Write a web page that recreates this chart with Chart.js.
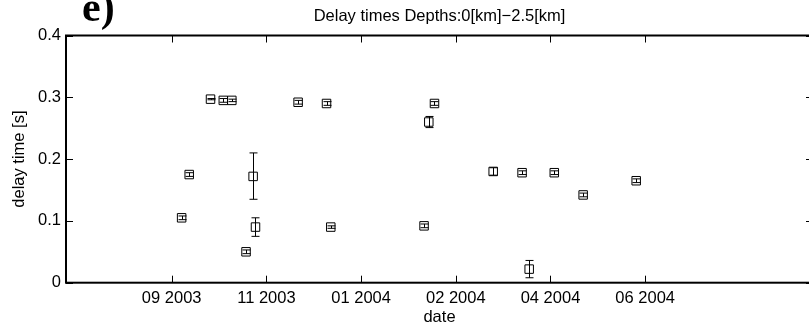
<!DOCTYPE html>
<html>
<head>
<meta charset="utf-8">
<script src="https://cdn.jsdelivr.net/npm/chart.js@4.4.0/dist/chart.umd.min.js"></script>
<style>
  html, body { margin: 0; padding: 0; background: #fff; overflow: hidden; }
  #wrap { position: relative; width: 813px; height: 330px; }
  canvas { display: block; }
</style>
</head>
<body>
<div id="wrap"><canvas id="delayChart" width="813" height="330"></canvas></div>
<script>
// date of each measurement, in months counted from Jan 2003 (9 = Sep 2003)
const dateMonths = [9.21, 9.37, 9.82, 10.09, 10.27, 10.57, 10.72, 10.77, 11.67, 12.27,
  12.36, 14.33, 14.43, 14.55, 15.79, 16.40, 16.55, 17.08, 17.69, 18.81];
// delay times [s]
const delayTimes = [0.105, 0.175, 0.297, 0.295, 0.295, 0.050, 0.172, 0.090, 0.292, 0.290,
  0.090, 0.092, 0.260, 0.290, 0.180, 0.178, 0.022, 0.178, 0.142, 0.165];
// error bar lengths below / above
const errLow = [0.003, 0.003, 0.001, 0.003, 0.002, 0.003, 0.037, 0.015, 0.003, 0.003,
  0.002, 0.003, 0.009, 0.003, 0.006, 0.003, 0.014, 0.003, 0.003, 0.003];
const errHigh = [0.003, 0.003, 0.001, 0.003, 0.002, 0.003, 0.038, 0.015, 0.003, 0.003,
  0.002, 0.003, 0.009, 0.003, 0.006, 0.003, 0.014, 0.003, 0.003, 0.003];
// x tick positions and their labels (as printed on the original figure)
const xTickPos = [9, 11, 13, 15, 17, 19];
const xTickLabels = ["09 2003", "11 2003", "01 2004", "02 2004", "04 2004", "06 2004"];
const yTicks = [0, 0.1, 0.2, 0.3, 0.4];

const FONT = "'Liberation Sans', Arial, Helvetica, sans-serif";

// error bars drawn from the arrays through the scales
const errorBars = {
  id: "errorBars",
  afterDatasetsDraw(chart) {
    const { ctx, scales: { x, y } } = chart;
    ctx.save();
    ctx.strokeStyle = "#000";
    ctx.lineWidth = 1;
    dateMonths.forEach((m, i) => {
      const px = Math.round(x.getPixelForValue(m)) + 0.5;
      const yLo = y.getPixelForValue(delayTimes[i] - errLow[i]);
      const yHi = y.getPixelForValue(delayTimes[i] + errHigh[i]);
      ctx.beginPath();
      ctx.moveTo(px, yLo); ctx.lineTo(px, yHi);
      ctx.moveTo(px - 4, yLo); ctx.lineTo(px + 4, yLo);
      ctx.moveTo(px - 4, yHi); ctx.lineTo(px + 4, yHi);
      ctx.stroke();
    });
    ctx.restore();
  }
};

// box frame with inward ticks, plus the panel letter
const frame = {
  id: "frame",
  afterDraw(chart) {
    const { ctx, chartArea: a, scales: { x, y } } = chart;
    ctx.save();
    ctx.strokeStyle = "#000";
    ctx.lineWidth = 1;
    ctx.beginPath();
    xTickPos.forEach(v => {
      const px = Math.round(x.getPixelForValue(v)) + 0.5;
      ctx.moveTo(px, a.bottom); ctx.lineTo(px, a.bottom - 7);
      ctx.moveTo(px, a.top); ctx.lineTo(px, a.top + 7);
    });
    yTicks.forEach(v => {
      const py = Math.round(y.getPixelForValue(v)) + 0.5;
      ctx.moveTo(a.left, py); ctx.lineTo(a.left + 7, py);
      ctx.moveTo(a.right, py); ctx.lineTo(a.right - 7, py);
    });
    ctx.stroke();
    ctx.lineWidth = 2;
    ctx.strokeRect(a.left, a.top, a.right - a.left, a.bottom - a.top);

    ctx.fillStyle = "#000";
    ctx.font = "bold 42px 'Liberation Serif', 'Times New Roman', serif";
    ctx.textBaseline = "alphabetic";
    ctx.fillText("e)", 82, 21);
    ctx.restore();
  }
};

const data = {
  datasets: [{
    label: "delay",
    data: dateMonths.map((m, i) => ({ x: m, y: delayTimes[i] })),
    showLine: false,
    pointStyle: "rect",
    pointRadius: 6,
    pointHoverRadius: 6,
    pointBorderWidth: 1,
    pointBorderColor: "#000",
    pointBackgroundColor: "rgba(0,0,0,0)"
  }]
};

const config = {
  type: "scatter",
  data: data,
  options: {
    responsive: false,
    animation: false,
    devicePixelRatio: 1,
    layout: { padding: 0, autoPadding: false },
    plugins: {
      legend: { display: false },
      tooltip: { enabled: false },
      title: {
        display: true,
        fullSize: false,
        text: "Delay times Depths:0[km]\u22122.5[km]",
        color: "#000",
        font: { family: FONT, size: 16.5, weight: "normal" },
        padding: { top: 6.3, bottom: 9.4 }
      }
    },
    scales: {
      x: {
        type: "linear",
        min: 6.768,
        max: 22.544,
        afterFit(scale) { scale.height = 47.3; },
        afterBuildTicks(scale) { scale.ticks = xTickPos.map(v => ({ value: v })); },
        grid: { display: false, drawTicks: false },
        border: { display: false },
        ticks: {
          autoSkip: false,
          maxRotation: 0,
          padding: 6,
          color: "#000",
          font: { family: FONT, size: 16.5 },
          callback: (v) => xTickLabels[xTickPos.indexOf(v)]
        },
        title: {
          display: true,
          text: "date",
          color: "#000",
          font: { family: FONT, size: 16.5 },
          padding: { top: 0, bottom: 2.6 }
        }
      },
      y: {
        min: 0,
        max: 0.4,
        afterFit(scale) { scale.width = 66; },
        afterBuildTicks(scale) { scale.ticks = yTicks.map(v => ({ value: v })); },
        grid: { display: false, drawTicks: false },
        border: { display: false },
        ticks: {
          padding: 5,
          color: "#000",
          font: { family: FONT, size: 16.5 },
          callback: (v) => String(Math.round(v * 10) / 10)
        },
        title: {
          display: true,
          text: "delay time [s]",
          color: "#000",
          font: { family: FONT, size: 16.5 },
          padding: { top: 9.6, bottom: 0 }
        }
      }
    }
  },
  plugins: [errorBars, frame]
};

new Chart(document.getElementById("delayChart").getContext("2d"), config);
</script>
</body>
</html>
